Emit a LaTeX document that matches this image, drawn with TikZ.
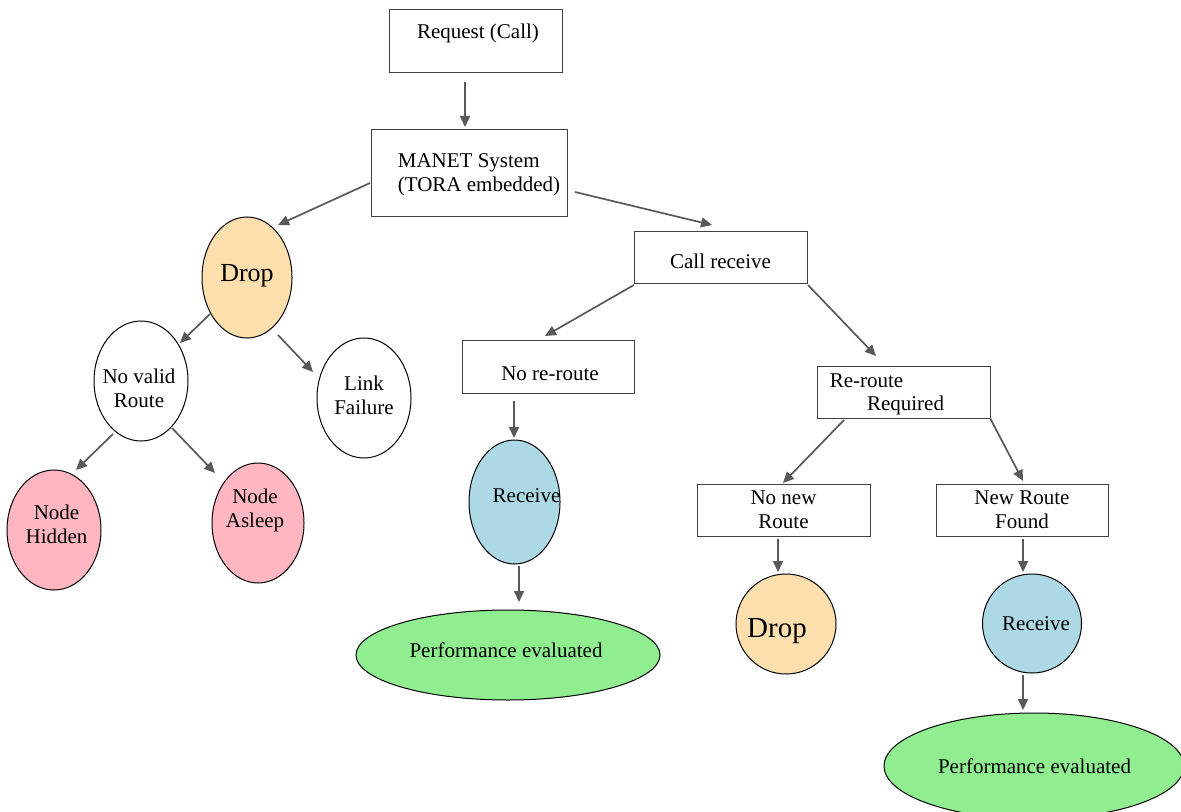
\documentclass[tikz,border=0pt]{standalone}
\usepackage{fontspec}
\setmainfont{Liberation Serif}
\usetikzlibrary{shapes.geometric,arrows.meta}
\definecolor{arrowgray}{HTML}{595959}
\definecolor{dropfill}{HTML}{FDDFAE}
\definecolor{pinkfill}{HTML}{FFB6C1}
\definecolor{bluefill}{HTML}{ADD8E6}
\definecolor{greenfill}{HTML}{90EE90}
\begin{document}
\begin{tikzpicture}[x=0.5pt,y=-0.5pt,
  txt/.style={font=\fontsize{10.5}{12}\selectfont, align=center, inner sep=0pt},
  box/.style={draw=black!75, line width=0.5pt, rectangle, inner sep=0pt, txt},
  ell/.style={draw=black, line width=0.5pt, ellipse, inner sep=0pt, txt},
  arr/.style={draw=arrowgray, line width=0.85pt, -{Triangle[length=5.5pt,width=5pt]}},
]
\useasboundingbox (0,0) rectangle (1181,812);
\fill[white] (0,0) rectangle (1181,812);

% boxes
\node[box, minimum width=86.5pt, minimum height=31.5pt,
  label={[txt,shift={(2.5,-8)}]center:Request (Call)}] (req) at (475.5,41.5) {};
\node[box, minimum width=98pt, minimum height=43.5pt,
  label={[txt,align=left,shift={(10,1.5)}]center:MANET System\\(TORA embedded)}] (manet) at (469,173.5) {};
\node[box, minimum width=86.5pt, minimum height=26pt,
  label={[txt,shift={(0,3)}]center:Call receive}] (call) at (720.5,258) {};
\node[box, minimum width=86pt, minimum height=26.5pt,
  label={[txt,shift={(2,7.5)}]center:No re-route}] (noreroute) at (548,366.5) {};
\node[box, minimum width=86.5pt, minimum height=26pt,
  label={[txt,shift={(-37,-11)}]center:Re-route},
  label={[txt,shift={(2,13)}]center:Required}] (reroute) at (903.5,392) {};
\node[box, minimum width=86.5pt, minimum height=26pt] (nonew) at (783.5,510) {No new\\Route};
\node[box, minimum width=86pt, minimum height=26pt] (newroute) at (1022,510) {New Route\\Found};

% ellipses
\node[ell, fill=dropfill, minimum width=45pt, minimum height=60.5pt,
  label={[txt,font=\fontsize{13}{15}\selectfont,shift={(0,-2)}]center:Drop}] (drop1) at (247,277.5) {};
\node[ell, fill=white, minimum width=47pt, minimum height=60pt,
  label={[txt,shift={(-2,7.5)}]center:No valid\\Route}] (novalid) at (141,381) {};
\node[ell, fill=white, minimum width=47pt, minimum height=60pt,
  label={[txt,shift={(0,-2.5)}]center:Link\\Failure}] (link) at (364,398) {};
\node[ell, fill=pinkfill, minimum width=47pt, minimum height=60pt,
  label={[txt,shift={(2.5,-6)}]center:Node\\Hidden}] (hidden) at (54,530) {};
\node[ell, fill=pinkfill, minimum width=46pt, minimum height=60pt,
  label={[txt,shift={(-3,-13)}]center:Node\\Asleep}] (asleep) at (258,523) {};
\node[ell, fill=bluefill, minimum width=45.5pt, minimum height=62pt,
  label={[txt,shift={(12,-6)}]center:Receive}] (recv1) at (514.5,502) {};
\node[ell, fill=greenfill, minimum width=152pt, minimum height=45pt,
  label={[txt,shift={(-2,-5)}]center:Performance evaluated}] (perf1) at (508,655) {};
\node[ell, fill=dropfill, minimum width=50pt, minimum height=50pt,
  label={[txt,font=\fontsize{14.5}{16}\selectfont,shift={(-9,7)}]center:Drop}] (drop2) at (786,624) {};
\node[ell, fill=bluefill, minimum width=49.5pt, minimum height=49.5pt,
  label={[txt,shift={(4,0.5)}]center:Receive}] (recv2) at (1032,623.5) {};
\node[ell, fill=greenfill, minimum width=150pt, minimum height=53pt,
  label={[txt,shift={(0.5,0)}]center:Performance evaluated}] (perf2) at (1034,766) {};

% connectors
\draw[arr] ([shift={(-10.5,40.5)}]req.center) -- ([shift={(-4,-46.5)}]manet.center);
\draw[arr] ([shift={(-99,9.5)}]manet.center) -- ([shift={(31,-52.5)}]drop1.center);
\draw[arr] ([shift={(106,18.5)}]manet.center) -- ([shift={(-8.5,-33)}]call.center);
\draw[arr] ([shift={(-37,36.5)}]drop1.center) -- ([shift={(39,-38)}]novalid.center);
\draw[arr] ([shift={(31,57.5)}]drop1.center) -- ([shift={(-51,-26)}]link.center);
\draw[arr] ([shift={(-28,53)}]novalid.center) -- ([shift={(22,-60)}]hidden.center);
\draw[arr] ([shift={(31,47)}]novalid.center) -- ([shift={(-43,-50)}]asleep.center);
\draw[arr] ([shift={(-86.5,27)}]call.center) -- ([shift={(-3,-30.5)}]noreroute.center);
\draw[arr] ([shift={(87.5,27)}]call.center) -- ([shift={(-27.5,-36)}]reroute.center);
\draw[arr] ([shift={(-34,34.5)}]noreroute.center) -- ([shift={(-0.5,-64)}]recv1.center);
\draw[arr] ([shift={(4.5,64)}]recv1.center) -- ([shift={(11,-53)}]perf1.center);
\draw[arr] ([shift={(-59.5,28)}]reroute.center) -- ([shift={(-0.5,-27)}]nonew.center);
\draw[arr] ([shift={(86.5,26)}]reroute.center) -- ([shift={(1,-29)}]newroute.center);
\draw[arr] ([shift={(-5.5,29)}]nonew.center) -- ([shift={(-8,-52)}]drop2.center);
\draw[arr] ([shift={(1,29)}]newroute.center) -- ([shift={(-9,-51.5)}]recv2.center);
\draw[arr] ([shift={(-9,51.5)}]recv2.center) -- ([shift={(-11,-56)}]perf2.center);
\end{tikzpicture}
\end{document}
